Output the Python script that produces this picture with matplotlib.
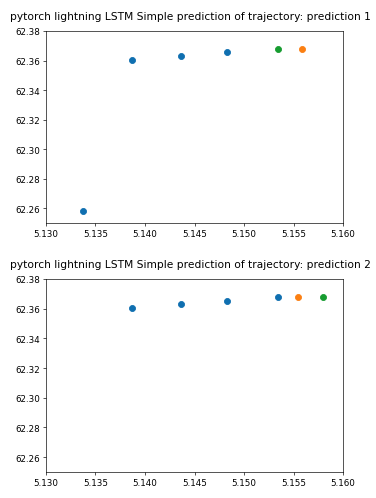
import matplotlib
matplotlib.use("Agg")
import matplotlib.pyplot as plt

plt.rcParams["font.size"] = 10.8

# colours
blue = "#0f6fb0"
orange = "#fb7f12"
green = "#169c30"

# prediction 1
p1_hist_x = [5.1337, 5.1387, 5.1436, 5.1483]
p1_hist_y = [62.2584, 62.3606, 62.3630, 62.3655]
p1_true_x = [5.1534]
p1_true_y = [62.3677]
p1_pred_x = [5.1559]
p1_pred_y = [62.3677]

# prediction 2
p2_hist_x = [5.1387, 5.1436, 5.1483, 5.1534]
p2_hist_y = [62.3606, 62.3630, 62.3655, 62.3677]
p2_pred_x = [5.1555]
p2_pred_y = [62.3677]
p2_true_x = [5.1580]
p2_true_y = [62.3677]

xticks = [5.130, 5.135, 5.140, 5.145, 5.150, 5.155, 5.160]
yticks = [62.26, 62.28, 62.30, 62.32, 62.34, 62.36, 62.38]

fig = plt.figure(figsize=(6.4, 499 / 58.75), dpi=58.75)
ax1 = fig.add_axes([0.1223, 0.5511, 0.790, 0.3848])
ax2 = fig.add_axes([0.1223, 0.0521, 0.790, 0.3868])

ax1.scatter(p1_hist_x, p1_hist_y, color=blue, s=55)
ax1.scatter(p1_true_x, p1_true_y, color=green, s=55)
ax1.scatter(p1_pred_x, p1_pred_y, color=orange, s=55)
ax1.set_title("pytorch lightning LSTM Simple prediction of trajectory: prediction 1",
              pad=15, x=0.485)

ax2.scatter(p2_hist_x, p2_hist_y, color=blue, s=55)
ax2.scatter(p2_pred_x, p2_pred_y, color=orange, s=55)
ax2.scatter(p2_true_x, p2_true_y, color=green, s=55)
ax2.set_title("pytorch lightning LSTM Simple prediction of trajectory: prediction 2",
              pad=15, x=0.485)

for ax in (ax1, ax2):
    ax.set_xlim(5.130, 5.160)
    ax.set_ylim(62.25, 62.38)
    ax.set_xticks(xticks)
    ax.set_yticks(yticks)
    ax.set_xticklabels([f"{t:.3f}" for t in xticks])
    ax.set_yticklabels([f"{t:.2f}" for t in yticks])

plt.savefig("out.png", dpi=58.75)
